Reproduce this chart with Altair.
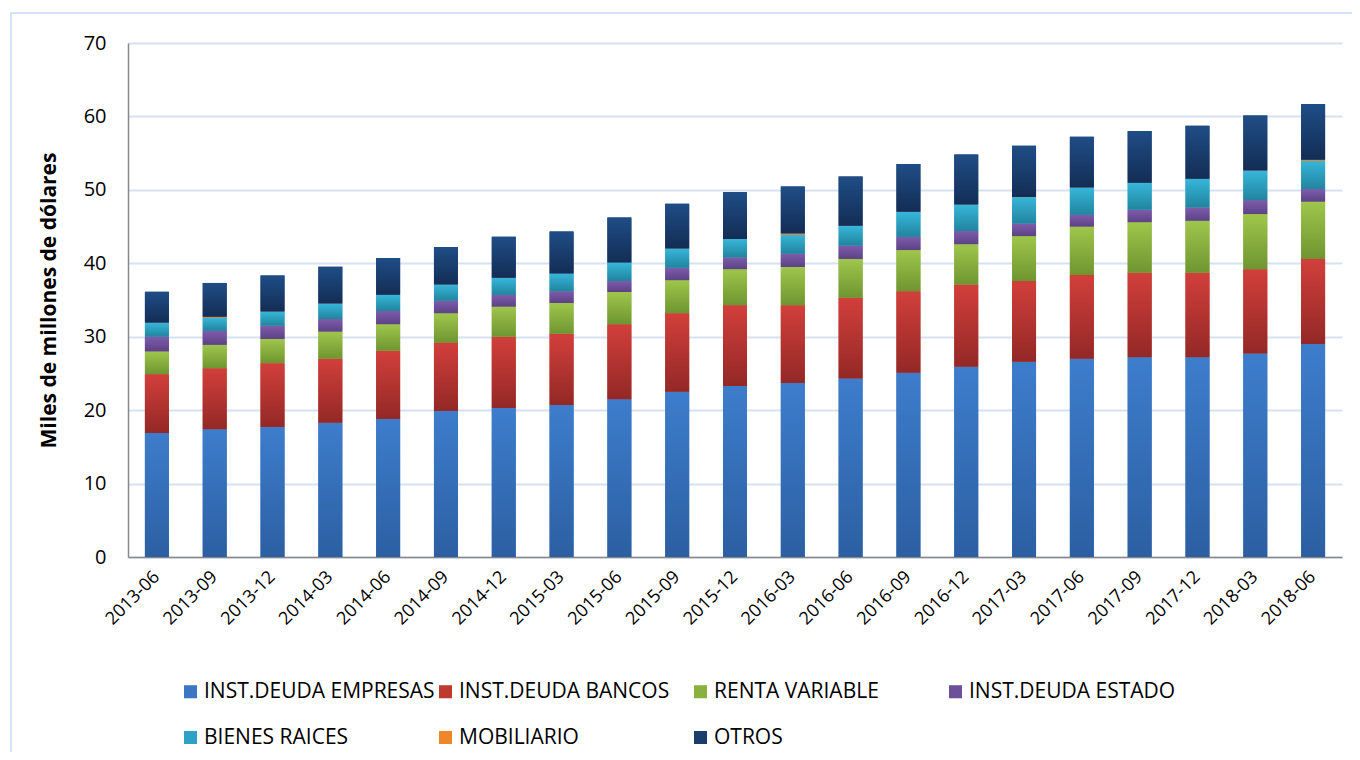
import altair as alt
import pandas as pd

fechas = ["2013-06", "2013-09", "2013-12", "2014-03", "2014-06", "2014-09", "2014-12",
          "2015-03", "2015-06", "2015-09", "2015-12", "2016-03", "2016-06", "2016-09",
          "2016-12", "2017-03", "2017-06", "2017-09", "2017-12", "2018-03", "2018-06"]

series = ["INST.DEUDA EMPRESAS", "INST.DEUDA BANCOS", "RENTA VARIABLE", "INST.DEUDA ESTADO",
          "BIENES RAICES", "MOBILIARIO", "OTROS"]

empresas = [16.9, 17.4, 17.7, 18.3, 18.8, 19.9, 20.3, 20.7, 21.5, 22.5, 23.3, 23.7, 24.3, 25.1,
            25.9, 26.6, 27.0, 27.2, 27.2, 27.7, 29.0]
bancos = [8.0, 8.3, 8.7, 8.7, 9.3, 9.3, 9.7, 9.7, 10.2, 10.7, 11.0, 10.6, 11.0, 11.1,
          11.2, 11.0, 11.4, 11.5, 11.5, 11.5, 11.6]
renta = [3.1, 3.2, 3.3, 3.7, 3.6, 4.0, 4.1, 4.2, 4.4, 4.5, 4.9, 5.2, 5.3, 5.6,
         5.5, 6.1, 6.6, 6.9, 7.1, 7.5, 7.8]
estado = [2.0, 1.9, 1.8, 1.7, 1.8, 1.7, 1.6, 1.6, 1.5, 1.7, 1.6, 1.8, 1.8, 1.8,
          1.8, 1.7, 1.6, 1.7, 1.8, 1.9, 1.7]
bienes = [1.9, 1.8, 1.9, 2.1, 2.2, 2.2, 2.3, 2.4, 2.5, 2.6, 2.5, 2.6, 2.7, 3.4,
          3.6, 3.6, 3.7, 3.65, 3.9, 4.0, 3.85]
mobiliario = [0.02, 0.12, 0.02, 0.02, 0.02, 0.02, 0.02, 0.02, 0.02, 0.02, 0.02, 0.15, 0.02, 0.02,
              0.02, 0.02, 0.02, 0.02, 0.02, 0.02, 0.15]
otros = [4.2, 4.6, 4.9, 5.0, 5.0, 5.1, 5.6, 5.7, 6.1, 6.1, 6.4, 6.4, 6.7, 6.5,
         6.8, 7.0, 6.9, 7.05, 7.2, 7.5, 7.6]

valores = [empresas, bancos, renta, estado, bienes, mobiliario, otros]

colores = ["#3A76C4", "#C0392F", "#8AB040", "#6E509A", "#2EA2C4", "#F0862A", "#1A3D6C"]
grad_top = ["#3D7DCC", "#D23F3B", "#9FC64B", "#7E5CAC", "#37B6DA", "#F89A3C", "#1F4D86"]
grad_bot = ["#2C5FA2", "#932826", "#6F9531", "#5C4285", "#21849E", "#E07520", "#132D55"]

rows = []
for k, (s, vals) in enumerate(zip(series, valores)):
    for f, v in zip(fechas, vals):
        rows.append({"fecha": f, "serie": s, "valor": v, "orden": k})
df = pd.DataFrame(rows)

FONT = "Open Sans"

x_enc = alt.X("fecha:O", sort=fechas, title=None,
              scale=alt.Scale(paddingInner=0.585, paddingOuter=0.2925),
              axis=alt.Axis(labelAngle=-45, labelAlign="right", labelBaseline="middle",
                            labelFontSize=18, labelFont=FONT, labelColor="#000000",
                            labelPadding=17, ticks=False, domainColor="#888888",
                            domainWidth=1.5, grid=False))
y_enc = alt.Y("y0:Q", title="Miles de millones de dólares",
              scale=alt.Scale(domain=[0, 70], nice=False),
              axis=alt.Axis(values=[0, 10, 20, 30, 40, 50, 60, 70], ticks=False,
                            labelFontSize=20, labelFont=FONT, labelColor="#000000",
                            labelPadding=22, domainColor="#888888", domainWidth=1.5,
                            grid=True, gridColor="#D6E1F1", gridWidth=2,
                            titleFont=FONT, titleFontSize=21, titleFontWeight="bold",
                            titleColor="#000000", titlePadding=24))

base = alt.Chart(df).transform_stack(
    stack="valor", groupby=["fecha"], as_=["y0", "y1"],
    sort=[alt.SortField("orden", order="ascending")]
)

solid = base.mark_bar(strokeWidth=0).encode(
    x=x_enc,
    y=y_enc,
    y2="y1:Q",
    color=alt.Color("serie:N", sort=series,
                    scale=alt.Scale(domain=series, range=colores),
                    legend=alt.Legend(title=None, orient="none", legendX=52, legendY=638,
                                      direction="horizontal", columns=4, gridAlign="all",
                                      columnPadding=-3, rowPadding=24,
                                      symbolType="square", symbolSize=170,
                                      symbolStrokeWidth=0, labelFont=FONT,
                                      labelFontSize=21, labelColor="#000000",
                                      labelOffset=3, labelLimit=400)),
)

layers = [solid]
for k, s in enumerate(series):
    g = alt.Gradient(gradient="linear",
                     stops=[alt.GradientStop(color=grad_top[k], offset=0),
                            alt.GradientStop(color=grad_bot[k], offset=1)],
                     x1=0, x2=0, y1=0, y2=1)
    layers.append(
        base.transform_filter(alt.datum.serie == s).mark_bar(color=g, strokeWidth=0).encode(
            x=alt.X("fecha:O", sort=fechas),
            y="y0:Q",
            y2="y1:Q",
        )
    )

frame = alt.Chart(pd.DataFrame({"a": [0]})).mark_rect(
    fillOpacity=0, stroke="#D6E2F3", strokeWidth=2
).encode(
    x=alt.value(-117), x2=alt.value(1260), y=alt.value(-30), y2=alt.value(740)
)

chart = alt.layer(frame, *layers).properties(
    width=1214, height=514,
    autosize=alt.AutoSizeParams(type="none"),
    padding={"left": 120, "top": 35, "right": 10, "bottom": 195},
).configure_view(stroke=None)

chart.save("out.html", embed_options={"renderer": "svg", "actions": False})
